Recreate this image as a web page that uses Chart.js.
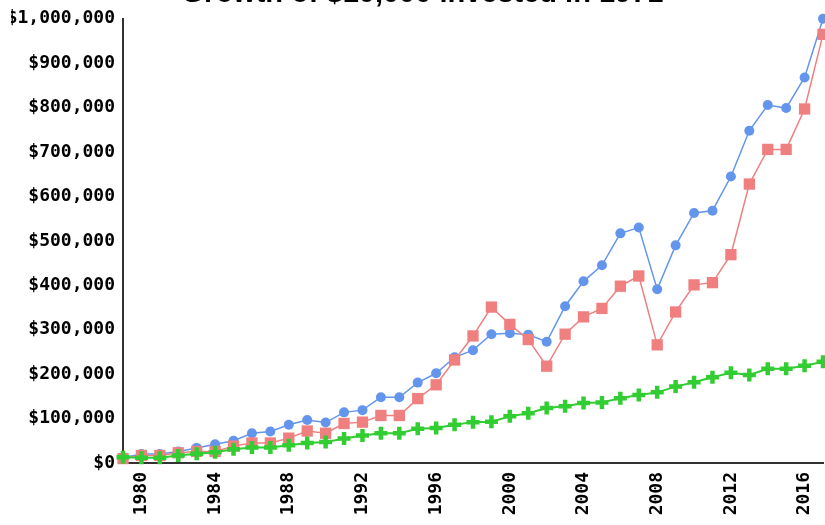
<!DOCTYPE html>
<html>
<head>
<meta charset="utf-8">
<script src="https://cdn.jsdelivr.net/npm/chart.js@4"></script>
<style>
  html, body { margin: 0; padding: 0; background: #fff; overflow: hidden; }
  #wrap { position: relative; width: 825px; height: 525px; overflow: hidden; }
  #myChart { position: absolute; left: 11px; top: -23px; }
</style>
</head>
<body>
<div id="wrap"><canvas id="myChart" width="823" height="548"></canvas></div>
<script>
var years = [1979, 1980, 1981, 1982, 1983, 1984, 1985, 1986, 1987, 1988,
    1989, 1990, 1991, 1992, 1993, 1994, 1995, 1996, 1997, 1998,
    1999, 2000, 2001, 2002, 2003, 2004, 2005, 2006, 2007, 2008,
    2009, 2010, 2011, 2012, 2013, 2014, 2015, 2016, 2017];

var blueValues = [12000, 20000, 20000, 26000, 34000, 42000, 50000, 67000, 71000, 86000,
    97000, 91000, 114000, 119000, 148000, 148000, 181000, 202000, 238000, 254000,
    290000, 292000, 289000, 273000, 353000, 409000, 445000, 517000, 530000, 391000,
    490000, 563000, 568000, 645000, 748000, 806000, 799000, 868000, 1000000];

var redValues = [10000, 17000, 17000, 23000, 26000, 26000, 38000, 45000, 45000, 56000,
    72000, 67000, 89000, 92000, 107000, 107000, 145000, 176000, 232000, 286000,
    351000, 312000, 278000, 218000, 290000, 329000, 348000, 398000, 421000, 266000,
    340000, 401000, 406000, 469000, 628000, 706000, 706000, 797000, 965000];

var greenValues = [13000, 12000, 12000, 17000, 21000, 24000, 31000, 35000, 35000, 40000,
    45000, 47000, 55000, 62000, 67000, 67000, 77000, 79000, 86000, 92000,
    93000, 105000, 112000, 124000, 128000, 135000, 136000, 146000, 153000, 159000,
    172000, 182000, 193000, 203000, 198000, 212000, 212000, 219000, 228000];

var tickFont = { family: "'DejaVu Sans Mono', monospace", size: 18, weight: "bold" };

new Chart("myChart", {
    type: "line",
    data: {
        labels: years,
        datasets: [{
            data: blueValues,
            order: 2,
            borderColor: "#6495ED",
            backgroundColor: "#6495ED",
            borderWidth: 1.5,
            pointStyle: "circle",
            pointRadius: 5,
            pointBorderWidth: 0,
            clip: false
        }, {
            data: redValues,
            order: 1,
            borderColor: "#F08080",
            backgroundColor: "#F08080",
            borderWidth: 1.5,
            pointStyle: "rect",
            pointRadius: 8,
            pointBorderWidth: 0,
            clip: false
        }, {
            data: greenValues,
            order: 0,
            borderColor: "#32CD32",
            backgroundColor: "#32CD32",
            borderWidth: 2,
            pointStyle: "cross",
            pointRadius: 6.5,
            pointBorderWidth: 4.5,
            clip: false
        }]
    },
    options: {
        responsive: false,
        animation: false,
        devicePixelRatio: 1,
        layout: { padding: 0 },
        plugins: {
            legend: { display: false },
            tooltip: { enabled: false },
            title: {
                display: true,
                text: "Growth of $10,000 invested in 1971",
                color: "#000",
                font: { family: "'Liberation Sans', Arial, sans-serif", size: 29, weight: "bold" },
                padding: { top: 0, bottom: 7 }
            }
        },
        scales: {
            x: {
                grid: { display: false, drawTicks: false },
                border: { color: "#333", width: 2 },
                afterFit: function (scale) {
                    scale.height = 62;
                    scale.paddingLeft = 0;
                    scale.paddingRight = 0;
                },
                ticks: {
                    autoSkip: false,
                    minRotation: 90,
                    maxRotation: 90,
                    padding: 9,
                    color: "#000",
                    font: tickFont,
                    callback: function (v, i) {
                        return years[i] % 4 === 0 ? String(years[i]) : "";
                    }
                }
            },
            y: {
                min: 0,
                max: 1000000,
                grid: { display: false, drawTicks: false },
                border: { color: "#333", width: 2 },
                afterFit: function (scale) { scale.width = 112; },
                ticks: {
                    stepSize: 100000,
                    padding: 8,
                    color: "#000",
                    font: tickFont,
                    callback: function (v) {
                        return "$" + v.toLocaleString("en-US");
                    }
                }
            }
        }
    }
});
</script>
</body>
</html>
